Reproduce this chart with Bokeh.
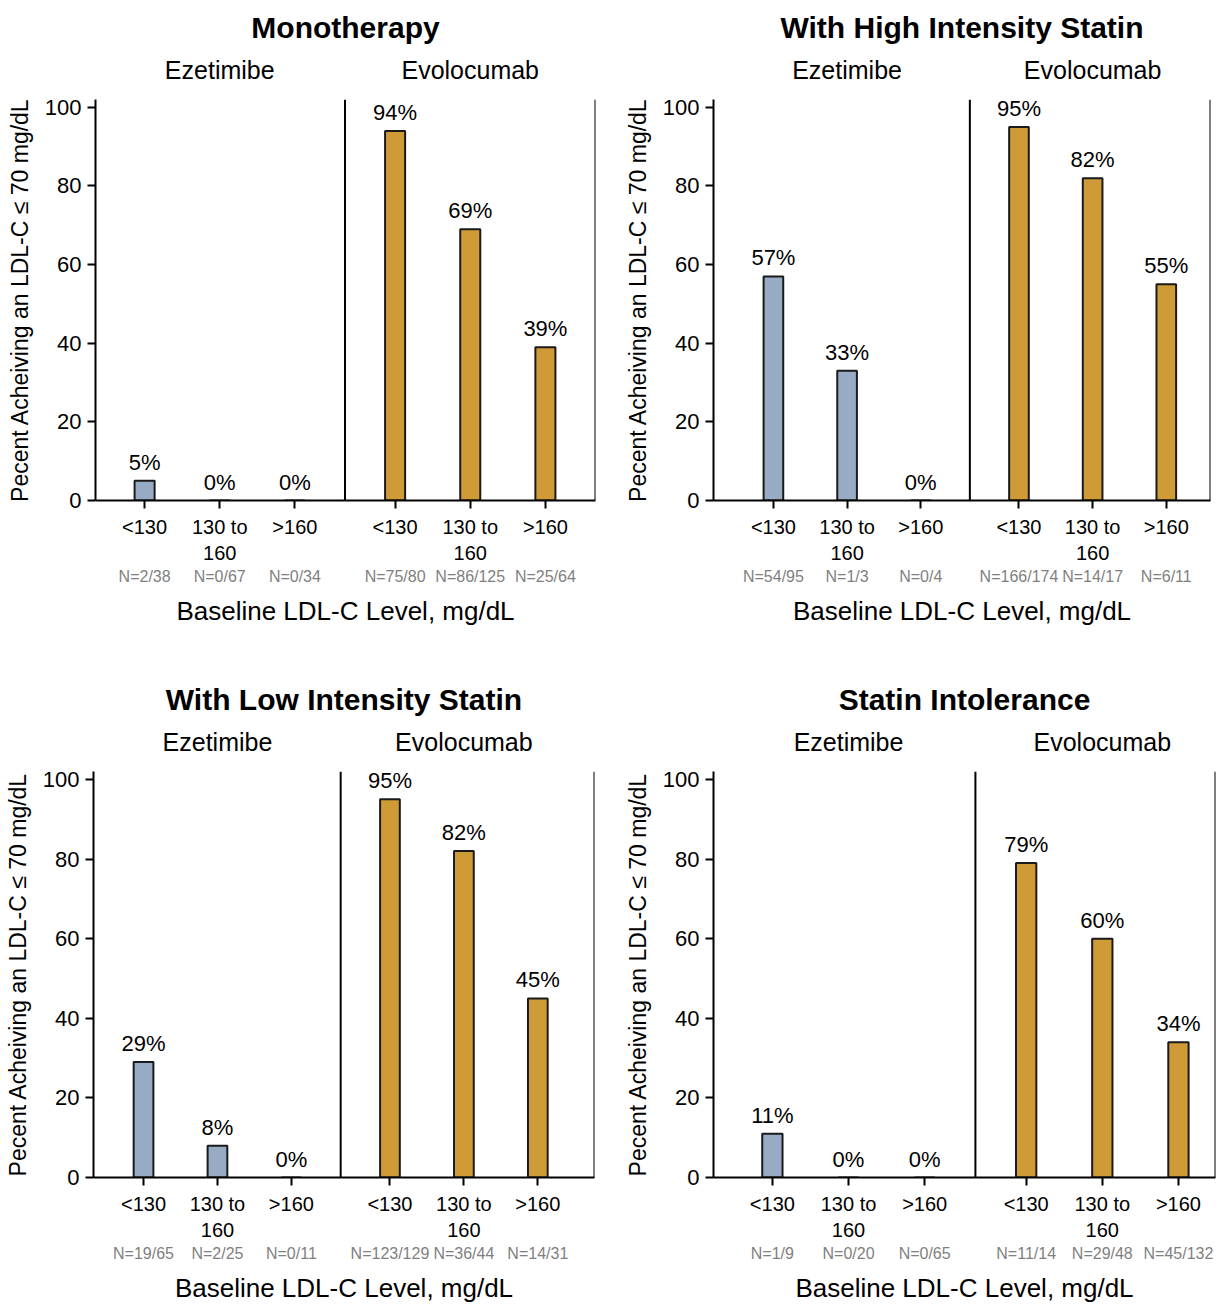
from bokeh.plotting import figure
from bokeh.layouts import column, row
from bokeh.models import LinearAxis, FixedTicker, Range1d, Span, ColumnDataSource
from bokeh.embed import file_html
from bokeh.resources import INLINE
from bokeh.core.properties import value

# ---------------- data ----------------
titles = ["Monotherapy", "With High Intensity Statin",
          "With Low Intensity Statin", "Statin Intolerance"]
groups = ["Ezetimibe", "Evolocumab"]
categories = ["<130", "130 to\n160", ">160"]

eze_pct = [[5, 0, 0], [57, 33, 0], [29, 8, 0], [11, 0, 0]]
evo_pct = [[94, 69, 39], [95, 82, 55], [95, 82, 45], [79, 60, 34]]

eze_n = [["N=2/38", "N=0/67", "N=0/34"],
         ["N=54/95", "N=1/3", "N=0/4"],
         ["N=19/65", "N=2/25", "N=0/11"],
         ["N=1/9", "N=0/20", "N=0/65"]]
evo_n = [["N=75/80", "N=86/125", "N=25/64"],
         ["N=166/174", "N=14/17", "N=6/11"],
         ["N=123/129", "N=36/44", "N=14/31"],
         ["N=11/14", "N=29/48", "N=45/132"]]

y_ticks = [0, 20, 40, 60, 80, 100]
y_title = "Pecent Acheiving an LDL-C \u2264 70 mg/dL"
x_title = "Baseline LDL-C Level, mg/dL"

# ---------------- style ----------------
FONT = "Liberation Sans"
EZE_COLOR = "#98abc5"
EVO_COLOR = "#cf9b36"
N_COLOR = "#7f7f7f"

# layout of x positions (category slots)
eze_x = [3, 6, 9]
evo_x = [13, 16, 19]
divider_x = 11
group_x = [6, 16]

# per-panel geometry: width, height, left, right, top, bottom, x_start, x_end
geom = [
    (611, 640, 95, 16, 97, 140, 1.04, 21.0),
    (610, 640, 102, 11, 95, 140, 0.56, 20.8),
    (611, 666, 93, 17, 131, 129, 0.97, 21.3),
    (610, 666, 102, 6, 128, 129, 0.68, 20.46),
]


def make_panel(i):
    w, h, l, r, t, b, xs0, xs1 = geom[i]
    p = figure(width=w, height=h, output_backend="svg", toolbar_location=None,
               x_range=Range1d(xs0, xs1), y_range=Range1d(0, 102),
               min_border_left=l, min_border_right=r,
               min_border_top=t, min_border_bottom=b,
               title=titles[i])
    p.outline_line_color = None
    p.xgrid.visible = False
    p.ygrid.visible = False
    p.background_fill_color = "white"
    p.border_fill_color = "white"

    p.title.text_font = FONT
    p.title.text_font_size = "30px"
    p.title.text_font_style = "bold"
    p.title.align = "center"
    p.title.text_color = "black"
    p.title.standoff = 17

    # y axis
    ya = p.yaxis[0]
    ya.ticker = FixedTicker(ticks=y_ticks)
    ya.minor_tick_line_color = None
    ya.major_tick_in = 0
    ya.major_tick_out = 8
    ya.axis_line_width = 2
    ya.major_tick_line_width = 2
    ya.axis_line_color = "black"
    ya.major_label_text_font = FONT
    ya.major_label_text_font_size = "22px"
    ya.major_label_text_color = "black"
    ya.major_label_standoff = 6
    ya.axis_label = y_title
    ya.axis_label_text_font = FONT
    ya.axis_label_text_font_size = "23px"
    ya.axis_label_text_font_style = "normal"
    ya.axis_label_text_color = "black"
    ya.axis_label_standoff = 9

    # x axis (category labels)
    xa = p.xaxis[0]
    xs = eze_x + evo_x
    xa.ticker = FixedTicker(ticks=xs)
    xa.major_label_overrides = {x: c for x, c in zip(xs, categories + categories)}
    xa.minor_tick_line_color = None
    xa.major_tick_in = 0
    xa.major_tick_out = 8
    xa.axis_line_width = 2
    xa.major_tick_line_width = 2
    xa.major_label_text_font = FONT
    xa.major_label_text_font_size = "20px"
    xa.major_label_text_color = "black"
    xa.major_label_standoff = 7

    # second x axis with N counts + axis title
    na = LinearAxis(ticker=FixedTicker(ticks=xs),
                    major_label_overrides={x: n for x, n in zip(xs, eze_n[i] + evo_n[i])})
    na.axis_line_color = None
    na.major_tick_line_color = None
    na.minor_tick_line_color = None
    na.major_tick_out = 0
    na.major_tick_in = 0
    na.major_label_standoff = 1
    na.major_label_text_font = FONT
    na.major_label_text_font_size = "16px"
    na.major_label_text_color = N_COLOR
    na.axis_label = x_title
    na.axis_label_text_font = FONT
    na.axis_label_text_font_size = "26px"
    na.axis_label_text_font_style = "normal"
    na.axis_label_text_color = "black"
    na.axis_label_standoff = 8
    p.add_layout(na, "below")

    # group labels above
    ga = LinearAxis(ticker=FixedTicker(ticks=group_x),
                    major_label_overrides={x: g for x, g in zip(group_x, groups)})
    ga.axis_line_color = None
    ga.major_tick_line_color = None
    ga.minor_tick_line_color = None
    ga.major_tick_out = 0
    ga.major_tick_in = 0
    ga.major_label_standoff = 16
    ga.major_label_text_font = FONT
    ga.major_label_text_font_size = "25px"
    ga.major_label_text_color = "black"
    p.add_layout(ga, "above")

    # bars
    src_e = ColumnDataSource(dict(x=eze_x, top=eze_pct[i],
                                  lab=[f"{v}%" for v in eze_pct[i]]))
    src_v = ColumnDataSource(dict(x=evo_x, top=evo_pct[i],
                                  lab=[f"{v}%" for v in evo_pct[i]]))
    for src, col in ((src_e, EZE_COLOR), (src_v, EVO_COLOR)):
        p.vbar(x="x", top="top", bottom=0, width=0.8, source=src,
               fill_color=col, line_color="#1a1a1a", line_width=2)
        p.text(x="x", y="top", text="lab", source=src,
               text_align="center", text_baseline="bottom", y_offset=-6,
               text_font=value(FONT), text_font_size="22px", text_color="black")

    # divider and right border
    p.add_layout(Span(location=divider_x, dimension="height",
                      line_color="black", line_width=2))
    p.add_layout(Span(location=xs1, dimension="height",
                      line_color="black", line_width=2))
    return p


panels = [make_panel(i) for i in range(4)]
layout = column(row(panels[0], panels[1]), row(panels[2], panels[3]))

with open("out.html", "w") as f:
    f.write(file_html(layout, INLINE))
